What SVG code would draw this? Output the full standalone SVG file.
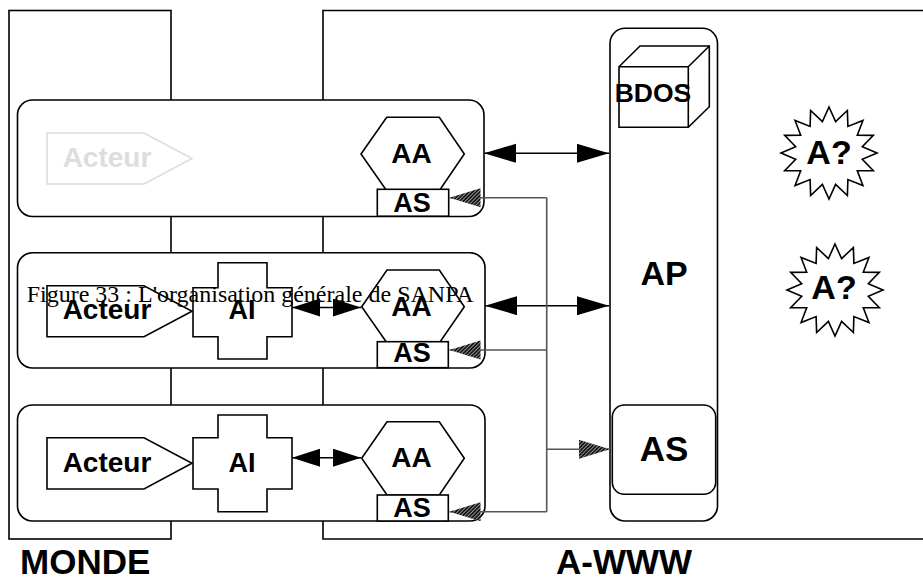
<svg xmlns="http://www.w3.org/2000/svg" width="923" height="578" viewBox="0 0 923 578">
<style>
.frame{fill:none;stroke:#000;stroke-width:1.6}
.row{fill:#fff;stroke:#000;stroke-width:1.6}
.shape{fill:#fff;stroke:#000;stroke-width:1.6}
.ghost{fill:#fff;stroke:#ddd;stroke-width:1.6}
.lbl{font-family:"Liberation Sans",Arial,sans-serif;font-weight:bold;text-anchor:middle;fill:#000}
.glbl{font-family:"Liberation Sans",Arial,sans-serif;font-weight:bold;text-anchor:middle;fill:#ddd}
.big{font-family:"Liberation Sans",Arial,sans-serif;font-weight:bold;font-size:35px;fill:#000}
.cap{font-family:"Liberation Serif","Times New Roman",serif;font-size:24px;fill:#000}
.blk{fill:none;stroke:#000;stroke-width:1.6}
.gry{fill:none;stroke:#555;stroke-width:1.6}
</style>
<defs>
<pattern id="hatch" width="2.6" height="2.6" patternUnits="userSpaceOnUse" patternTransform="rotate(45)">
<rect width="2.6" height="2.6" fill="#999"/>
<line x1="0.8" y1="0" x2="0.8" y2="2.6" stroke="#000" stroke-width="1.5"/>
</pattern>
<marker id="bigHead" markerUnits="userSpaceOnUse" markerWidth="33" markerHeight="20" refX="32" refY="9.5" orient="auto-start-reverse" viewBox="0 0 33 20">
<path d="M0,0 L32,9.5 L0,19 Z" fill="#000"/>
</marker>
<marker id="smallHead" markerUnits="userSpaceOnUse" markerWidth="29" markerHeight="19" refX="28" refY="9" orient="auto-start-reverse" viewBox="0 0 29 19">
<path d="M0,0 L28,9 L0,18 Z" fill="#000"/>
</marker>
<marker id="hatchHead" markerUnits="userSpaceOnUse" markerWidth="32" markerHeight="20" refX="31" refY="9.5" orient="auto" viewBox="0 0 32 20">
<path d="M0,0 L31,9.5 L0,19 Z" fill="url(#hatch)"/>
</marker>
<polygon id="star" points="0,-46 6.6,-31.4 18.37,-42.5 18.9,-26.6 33.94,-32.53 28.3,-17.8 44.35,-17.6 33.3,-6.2 48,0 33.3,6.2 44.35,17.6 28.3,17.8 33.94,32.53 18.9,26.6 18.37,42.5 6.6,31.4 0,46 -6.6,31.4 -18.37,42.5 -18.9,26.6 -33.94,32.53 -28.3,17.8 -44.35,17.6 -33.3,6.2 -48,0 -33.3,-6.2 -44.35,-17.6 -28.3,-17.8 -33.94,-32.53 -18.9,-26.6 -18.37,-42.5 -6.6,-31.4"/>
</defs>

<g id="monde">
<rect class="frame" x="9" y="10.5" width="162" height="528.5"/>
<text class="big" x="20" y="573.5">MONDE</text>
</g>
<g id="awww">
<path class="frame" d="M930,10.5 H323 V539 H930"/>
<text class="big" x="556" y="573.5">A-WWW</text>
</g>

<g id="row1">
<rect class="row" x="17.5" y="100" width="466.5" height="116.5" rx="15"/>
<g id="acteur1">
<path class="ghost" d="M47,133 H144 L192,158.5 L144,184 H47 Z"/>
<text class="glbl" x="107" y="166.5" font-size="28">Acteur</text>
</g>
<g id="aa1">
<polygon class="shape" points="361,154 386.7,117.3 439.3,117.3 464.3,154 439.3,190.7 386.7,190.7"/>
<text class="lbl" x="411.5" y="163.3" font-size="28">AA</text>
</g>
<g id="as1">
<rect class="shape" x="377.3" y="189.3" width="71.4" height="26.9"/>
<text class="lbl" x="412" y="212" font-size="27">AS</text>
</g>
</g>

<g id="row2">
<rect class="row" x="17.5" y="252.7" width="467.5" height="115.3" rx="15"/>
<g id="acteur2">
<path class="shape" d="M47,285.7 H144 L192,311.2 L144,336.7 H47 Z"/>
<text class="lbl" x="107" y="318.5" font-size="28">Acteur</text>
</g>
<g id="ai2">
<path class="shape" d="M218,262.7 H267 V287.7 H292 V336.7 H267 V359 H218 V336.7 H193 V287.7 H218 Z"/>
<text class="lbl" x="242" y="318.5" font-size="27">AI</text>
</g>
<g id="aa2">
<polygon class="shape" points="361.7,306.7 387,270 439.3,270 464.3,306.7 439.3,343 387,343"/>
<text class="lbl" x="411.5" y="315.5" font-size="28">AA</text>
</g>
<g id="as2">
<rect class="shape" x="377.3" y="341.7" width="71" height="26"/>
<text class="lbl" x="412" y="362" font-size="27">AS</text>
</g>
</g>

<g id="row3">
<rect class="row" x="17.5" y="405" width="467.5" height="116" rx="15"/>
<g id="acteur3">
<path class="shape" d="M47,437.7 H144 L192,463.3 L144,489 H47 Z"/>
<text class="lbl" x="107" y="471.7" font-size="28">Acteur</text>
</g>
<g id="ai3">
<path class="shape" d="M218,415 H267 V437.7 H292 V489 H267 V511.7 H218 V489 H193 V437.7 H218 Z"/>
<text class="lbl" x="242" y="471.7" font-size="27">AI</text>
</g>
<g id="aa3">
<polygon class="shape" points="361.7,458.3 387,421.7 439.3,421.7 464.3,458.3 439.3,495 387,495"/>
<text class="lbl" x="411.5" y="467" font-size="28">AA</text>
</g>
<g id="as3">
<rect class="shape" x="377.3" y="495" width="71" height="26"/>
<text class="lbl" x="412" y="517" font-size="27">AS</text>
</g>
</g>

<g id="ap">
<rect class="shape" x="610" y="28.3" width="107.5" height="492.7" rx="15"/>
<text class="lbl" x="664" y="285" font-size="34">AP</text>
</g>
<g id="bdos">
<path class="shape" d="M619,66.7 L640,46 H709.3 V106.7 L688.3,127.3 H619 Z"/>
<path class="blk" d="M619,66.7 H688.3 V127.3 M688.3,66.7 L709.3,46"/>
<text class="lbl" x="653" y="102.3" font-size="26.5">BDOS</text>
</g>
<g id="as-ap">
<rect class="shape" x="612.3" y="405" width="103.4" height="89.3" rx="12"/>
<text class="lbl" x="664" y="460.5" font-size="35">AS</text>
</g>

<g id="star1">
<use href="#star" transform="translate(829,153)" class="shape"/>
<text class="lbl" x="829" y="164.3" font-size="34">A?</text>
</g>
<g id="star2">
<use href="#star" transform="translate(835,290)" class="shape"/>
<text class="lbl" x="834" y="299" font-size="34">A?</text>
</g>

<g id="connectors">
<line class="blk" x1="484" y1="153.3" x2="609" y2="153.3" marker-start="url(#bigHead)" marker-end="url(#bigHead)"/>
<line class="blk" x1="485" y1="305.7" x2="609" y2="305.7" marker-start="url(#bigHead)" marker-end="url(#bigHead)"/>
<line class="blk" x1="292" y1="307.5" x2="361" y2="307.5" marker-start="url(#smallHead)" marker-end="url(#smallHead)"/>
<line class="blk" x1="292" y1="457.7" x2="361" y2="457.7" marker-start="url(#smallHead)" marker-end="url(#smallHead)"/>
<path class="gry" d="M546.7,197.7 V511.7"/>
<path class="gry" d="M546.7,197.7 H449.5" marker-end="url(#hatchHead)"/>
<path class="gry" d="M546.7,350 H449.5" marker-end="url(#hatchHead)"/>
<path class="gry" d="M546.7,511.7 H449.5" marker-end="url(#hatchHead)"/>
<path class="gry" d="M546.7,449.3 H610" marker-end="url(#hatchHead)"/>
</g>

<text id="caption" class="cap" x="26.7" y="301.7">Figure 33 : L'organisation générale de SANPA</text>
</svg>
